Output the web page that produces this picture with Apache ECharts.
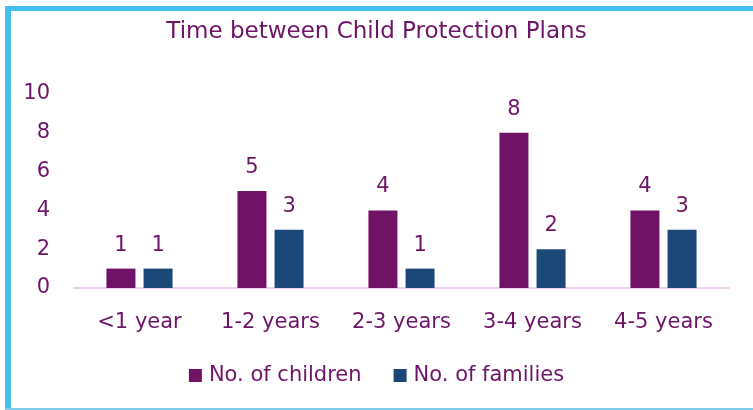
<!DOCTYPE html>
<html><head><meta charset="utf-8">
<script src="https://cdn.jsdelivr.net/npm/echarts@6/dist/echarts.min.js"></script>
<style>html,body{margin:0;padding:0;background:#fff}#c{width:753px;height:410px}</style>
</head><body><div id="c"></div>
<script>
const categories = ['<1 year','1-2 years','2-3 years','3-4 years','4-5 years'];
const children = [1,5,4,8,4];
const families = [1,3,1,2,3];
const yTicks = [0,2,4,6,8,10];
const purple = '#701367', blue = '#1C4878', txt = '#6E1468';
const font = 'DejaVu Sans';
const chart = echarts.init(document.getElementById('c'));
chart.setOption({
  animation:false,
  textStyle:{fontFamily:font},
  title:{text:'Time between Child Protection Plans',left:'center',top:16,
    textStyle:{fontFamily:font,fontWeight:'normal',fontSize:23,color:txt}},
  graphic:[
    {type:'rect',shape:{x:5,y:6,width:6,height:404},style:{fill:'#45C0EE'}},
    {type:'rect',shape:{x:5,y:6,width:748,height:5},style:{fill:'#45C0EE'}},
    {type:'rect',shape:{x:5,y:408,width:748,height:2},style:{fill:'#7FCBEA'}}
  ],
  legend:{bottom:19,left:'center',itemWidth:13,itemHeight:13,itemGap:32,icon:'rect',
    textStyle:{fontFamily:font,fontSize:21,color:txt,padding:[0,0,0,2]}},
  grid:{left:74,right:24,top:94,bottom:122,containLabel:false},
  xAxis:{type:'category',data:categories,
    axisLine:{lineStyle:{color:'#EBD3EE',width:2}},axisTick:{show:false},
    axisLabel:{fontFamily:font,fontSize:21,color:txt,margin:24}},
  yAxis:{type:'value',min:0,max:10,interval:2,splitLine:{show:false},
    axisLine:{show:false},axisTick:{show:false},
    axisLabel:{fontFamily:font,fontSize:21,color:txt,margin:24,
      formatter:v=>yTicks.includes(v)?String(v):''}},
  series:[
    {name:'No. of children',type:'bar',data:children,barWidth:29,barGap:'28%',
      itemStyle:{color:purple},
      label:{show:true,position:'top',distance:13,fontFamily:font,fontSize:21,color:txt}},
    {name:'No. of families',type:'bar',data:families,barWidth:29,
      itemStyle:{color:blue},
      label:{show:true,position:'top',distance:13,fontFamily:font,fontSize:21,color:txt}}
  ]
});
</script></body></html>
